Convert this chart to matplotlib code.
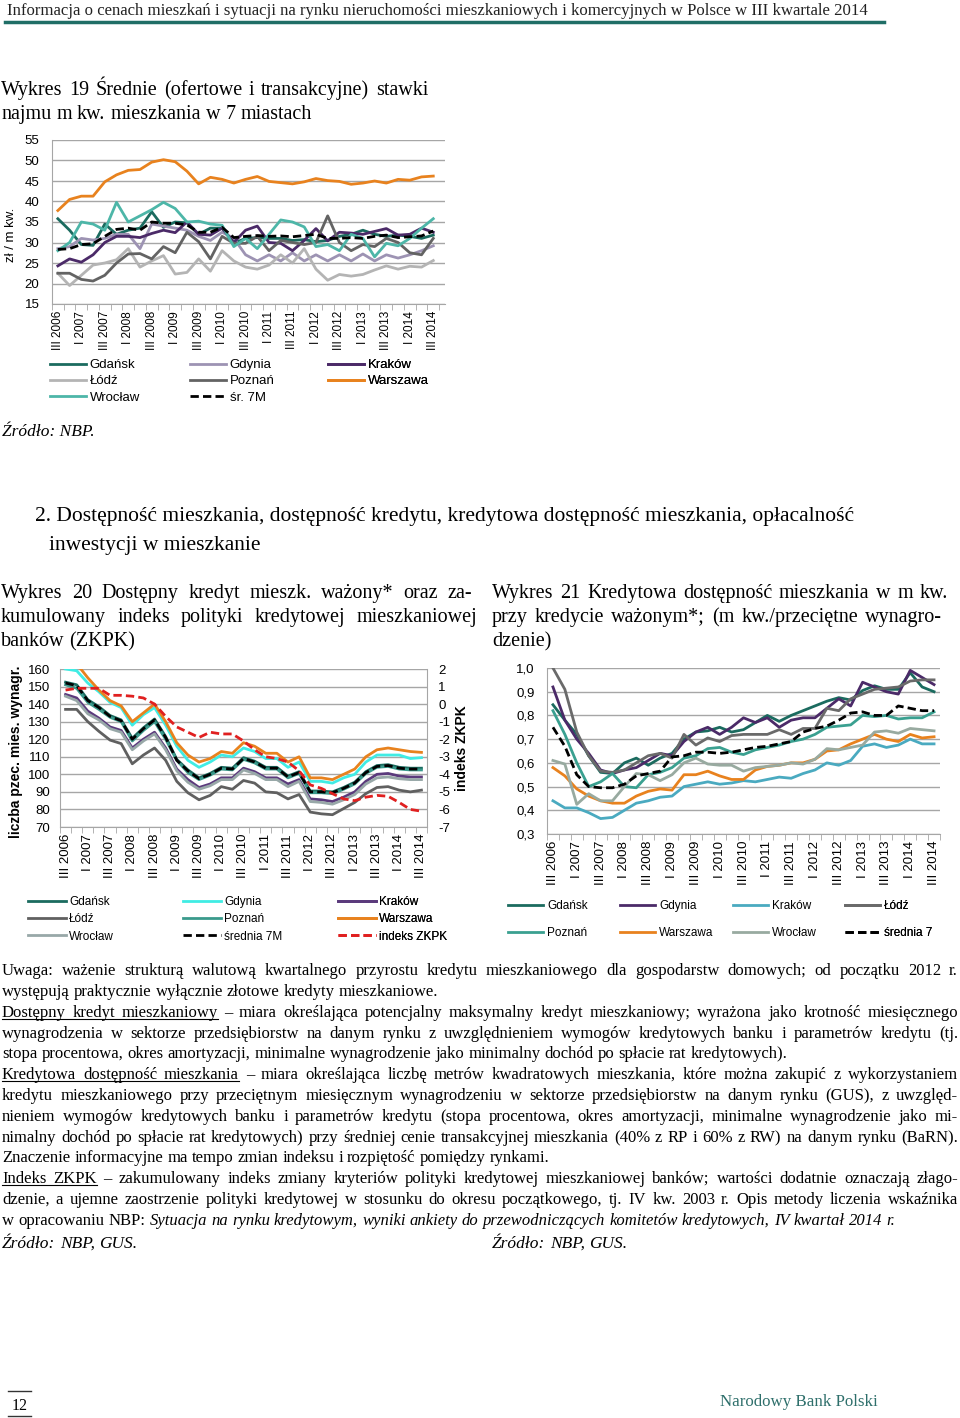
import matplotlib
matplotlib.use('Agg')
import numpy as np
import matplotlib.pyplot as plt
from matplotlib.font_manager import FontProperties, findfont
from matplotlib.lines import Line2D

W, H = 960, 1418

# ---- data ----------------------------------------------------------
quarters = np.arange(33)          # III 2006 ... III 2014
tick_pos = list(range(0, 33, 2))
tick_labels = ['III 2006', 'I 2007', 'III 2007', 'I 2008', 'III 2008', 'I 2009',
               'III 2009', 'I 2010', 'III 2010', 'I 2011', 'III 2011', 'I 2012',
               'III 2012', 'I 2013', 'III 2013', 'I 2014', 'III 2014']

# Wykres 19 - stawki najmu zl / m kw.
r_gdansk = [35.8, 33, 29.5, 29.3, 34.5, 32, 33, 33.5, 37.5, 33.7, 35, 34.8, 32, 33.5, 33.5, 29.8, 31,
            31.2, 31, 31, 30.5, 30.7, 30.2, 30.5, 31.5, 32, 33, 32, 31.5, 31.8, 31.5, 31, 31.8]
r_gdynia = [28.5, 29, 31, 30.6, 31, 32, 32, 28.5, 34.5, 34, 33.5, 33, 31.5, 30.5, 32.5, 31, 27,
            25.5, 27, 25.5, 27.5, 25.5, 27, 25.5, 27, 25.5, 27.2, 25.5, 27, 26.2, 27, 28, 29.2]
r_krakow = [24.3, 26, 25.2, 27, 30, 31.5, 31.5, 31.2, 32.2, 33, 32.4, 35, 32, 31.8, 33.5, 30, 33,
            34, 30, 29.8, 28, 30.5, 33.4, 30.4, 32.5, 32.3, 32, 32.7, 33.4, 31.8, 32, 33.5, 32.5]
r_lodz = [22.5, 19.5, 22, 24.5, 25, 25.8, 28.5, 24, 25.5, 26.8, 22.3, 22.7, 26, 23, 28, 25.5, 24,
          23.5, 24.5, 27, 25, 28.5, 23.5, 20.8, 22.2, 21.8, 22.2, 23.3, 24.3, 23.5, 24.2, 24, 25.6]
r_poznan = [22.5, 22.5, 21, 20.6, 22, 25, 27.2, 27.3, 26, 29, 27.5, 32.5, 30.2, 26, 31.5, 29.8, 29.8,
            31.5, 28, 30.5, 30, 29.5, 30, 36.5, 30, 28, 29.5, 29, 31, 30, 27.5, 27, 31]
r_warszawa = [37.8, 40.5, 41.3, 41.3, 44.8, 46.5, 47.6, 47.8, 49.6, 50.2, 49.7, 47.4, 44.3, 45.9, 45.4,
              44.5, 45.4, 46.1, 44.9, 44.6, 44.3, 44.8, 45.6, 45.1, 44.9, 44.2, 44.5, 45.0, 44.5,
              45.4, 45.2, 46.0, 46.2]
r_wroclaw = [28, 30, 35, 34.5, 33, 39.8, 35, 36.5, 38, 39.8, 38.3, 35, 35.2, 34.5, 34.2, 29, 31,
             28.5, 32, 35.5, 35, 33.8, 29, 29.5, 28, 32, 31, 26.5, 29.8, 29.2, 31, 33.5, 35.8]
r_avg = [28.3, 28.5, 29.5, 29.7, 31.5, 33.2, 33.5, 33, 35, 34.7, 34.7, 34.3, 32.5, 32.5, 33.7, 31.2,
         31.5, 31.7, 31.5, 31.6, 31.4, 31.7, 32.0, 31.0, 31.0, 31.2, 31.0, 31.5, 31.8, 31.2, 31.4,
         31.6, 32.8]

# Wykres 20 - dostepny kredyt (liczba przec. mies. wynagr.) i indeks ZKPK
k_warszawa = [165, 163, 155, 148, 142, 139, 130, 135, 140, 130, 118, 111, 107, 109, 113, 112, 118,
              116, 112, 112, 107, 110, 98, 98, 97, 100, 103, 110, 114, 115, 114, 113, 112.5]
k_gdynia = [160, 159, 152, 147, 141, 138, 128, 134, 138, 128, 116, 108, 104, 107, 111, 110, 115,
            113, 109, 109, 104, 107, 96, 96, 95, 98, 100, 107, 111, 111, 111, 109, 109.5]
k_gdansk = [152.5, 151, 142.5, 138.5, 133.5, 131, 120.5, 126.5, 131.5, 121.5, 108.5, 102.5, 98, 100.5,
            104, 103.5, 109.5, 107.5, 104, 104, 99, 101.5, 90.5, 90.5, 90, 92.5, 95.5, 101.5, 105,
            105.5, 104, 103.5, 103.5]
k_poznan = [151, 149, 141, 137, 132.5, 130, 119, 125, 130, 120, 108, 101, 97, 99.5, 103, 102.5, 108.5,
            106.5, 103, 103, 98, 100.5, 89.5, 89.5, 89, 91.5, 94.5, 100.5, 104, 104.5, 103, 102.5,
            102.5]
k_avg = [152, 150.5, 142, 138, 133, 130.5, 120, 126, 131, 121, 108, 102, 97.5, 100, 103.5, 103, 109,
         107, 103.5, 103.5, 98.5, 101, 90, 90, 89.5, 92, 95, 101, 104.5, 105, 103.5, 103, 103]
k_krakow = [145.5, 143.5, 136, 132, 127, 125, 115, 120, 124, 115, 103, 97, 92.5, 94.5, 98, 98, 103.5,
            101.5, 98, 98, 94.5, 97, 86, 85.5, 84.5, 87, 90, 96, 100, 100.5, 99, 98.5, 98.5]
k_wroclaw = [144.5, 142, 134.5, 131, 126, 124, 114, 119, 123, 114, 102, 95.5, 91.5, 93.5, 97, 97,
             102.5, 100.5, 97, 97, 93, 96, 84.5, 84, 83, 85.5, 88.5, 94.5, 98, 98.5, 97.5, 97, 97]
k_lodz = [137, 137, 130, 124.5, 119.5, 117.5, 106, 111, 115, 108, 96, 89.5, 85.5, 88, 93, 91.5, 96.5,
          95, 90, 89.5, 86, 88.5, 78.5, 77.5, 77, 80.5, 84, 89, 92.5, 93, 91, 90, 91]
zkpk = [0.8, 0.9, 0.9, 0.9, 0.5, 0.5, 0.45, 0.35, 0, -0.7, -1.3, -1.6, -1.9, -1.6, -1.7, -1.7, -2.1,
        -2.6, -3.0, -3.1, -3.3, -3.8, -4.6, -4.8, -5.1, -5.4, -5.5, -5.3, -5.2, -5.25, -5.6, -6.0,
        -6.1]

# Wykres 21 - kredytowa dostepnosc mieszkania (m kw./przec. wynagrodzenie)
d_gdansk = [0.845, 0.78, 0.72, 0.63, 0.56, 0.555, 0.60, 0.62, 0.59, 0.62, 0.64, 0.70, 0.73, 0.735,
            0.75, 0.73, 0.74, 0.77, 0.80, 0.775, 0.80, 0.82, 0.84, 0.86, 0.875, 0.865, 0.905, 0.925,
            0.91, 0.91, 0.98, 0.92, 0.90]
d_gdynia = [0.92, 0.78, 0.70, 0.64, 0.57, 0.555, 0.57, 0.58, 0.61, 0.64, 0.63, 0.69, 0.73, 0.75, 0.72,
            0.75, 0.79, 0.77, 0.79, 0.75, 0.78, 0.79, 0.79, 0.83, 0.87, 0.84, 0.94, 0.92, 0.90, 0.89,
            0.99, 0.96, 0.93]
d_krakow = [0.44, 0.41, 0.41, 0.39, 0.365, 0.37, 0.40, 0.43, 0.44, 0.455, 0.46, 0.50, 0.51, 0.52,
            0.51, 0.515, 0.525, 0.52, 0.53, 0.54, 0.535, 0.555, 0.57, 0.60, 0.59, 0.61, 0.67, 0.68,
            0.665, 0.675, 0.70, 0.68, 0.68]
d_lodz = [1.0, 0.91, 0.73, 0.63, 0.565, 0.56, 0.57, 0.60, 0.63, 0.64, 0.62, 0.72, 0.675, 0.705, 0.69,
          0.715, 0.72, 0.72, 0.72, 0.74, 0.72, 0.745, 0.745, 0.83, 0.82, 0.87, 0.89, 0.91, 0.915,
          0.92, 0.945, 0.95, 0.95]
d_poznan = [0.82, 0.72, 0.60, 0.50, 0.52, 0.555, 0.50, 0.495, 0.55, 0.56, 0.58, 0.62, 0.63, 0.66,
            0.665, 0.645, 0.635, 0.655, 0.665, 0.675, 0.69, 0.70, 0.72, 0.75, 0.755, 0.76, 0.80,
            0.795, 0.80, 0.785, 0.79, 0.79, 0.815]
d_warszawa = [0.58, 0.545, 0.49, 0.46, 0.44, 0.43, 0.43, 0.46, 0.48, 0.49, 0.485, 0.55, 0.55, 0.565,
              0.545, 0.53, 0.53, 0.57, 0.585, 0.59, 0.60, 0.60, 0.615, 0.65, 0.655, 0.68, 0.70, 0.72,
              0.70, 0.69, 0.72, 0.705, 0.71]
d_wroclaw = [0.61, 0.595, 0.425, 0.47, 0.44, 0.44, 0.50, 0.555, 0.55, 0.525, 0.55, 0.60, 0.62, 0.595,
             0.59, 0.59, 0.565, 0.58, 0.585, 0.59, 0.60, 0.595, 0.615, 0.66, 0.655, 0.665, 0.675,
             0.73, 0.735, 0.725, 0.745, 0.74, 0.735]
d_avg = [0.75, 0.67, 0.55, 0.50, 0.495, 0.495, 0.51, 0.545, 0.555, 0.565, 0.625, 0.63, 0.645, 0.645,
         0.64, 0.645, 0.655, 0.665, 0.67, 0.68, 0.69, 0.73, 0.745, 0.755, 0.78, 0.81, 0.815, 0.80,
         0.80, 0.84, 0.83, 0.82, 0.82]


# ---- helpers -------------------------------------------------------
def pick_font(names):
    for n in names:
        try:
            findfont(FontProperties(family=n), fallback_to_default=False)
            return n
        except Exception:
            pass
    return 'DejaVu Sans'

SANS = pick_font(['Liberation Sans', 'Arial'])
NARROW = pick_font(['Liberation Sans Narrow', 'Liberation Sans'])
SERIF = pick_font(['Liberation Serif', 'DejaVu Serif'])

fig = plt.figure(figsize=(W / 100, H / 100), dpi=100)
renderer = fig.canvas.get_renderer()

def fx(x):
    return x / W

def fy(y):
    return 1 - y / H

def axes_px(l, t, r, b):
    return fig.add_axes([l / W, 1 - b / H, (r - l) / W, (b - t) / H])

GRID = '#a6a6a6'

def style_axes(ax, xlim, fs_y, fs_x, ypad):
    ax.set_xlim(*xlim)
    ax.grid(axis='y', color=GRID, lw=1)
    ax.set_axisbelow(True)
    for s in ['top', 'right']:
        ax.spines[s].set_visible(False)
    for s in ['left', 'bottom']:
        ax.spines[s].set_color(GRID)
    ax.tick_params(axis='y', length=0, labelsize=fs_y, pad=ypad)
    ax.set_xticks(tick_pos)
    ax.set_xticklabels(tick_labels, rotation=90, fontsize=fs_x, fontfamily=SANS)
    ax.tick_params(axis='x', length=0, pad=5)
    ax.set_xticks(np.arange(-0.5, 33, 1), minor=True)
    ax.tick_params(axis='x', which='minor', length=4, color=GRID)
    for lab in ax.get_yticklabels():
        lab.set_fontfamily(SANS)

def vlabel(x, y, s, size=9.5, bold=False):
    fig.text(fx(x), fy(y), s, rotation=90, ha='center', va='center', fontsize=size,
             fontfamily=SANS, fontweight='bold' if bold else 'normal')

def legend_cols(ax, handles, cols, x_list, y_top, fs, family, rowgap, hlen):
    fp = FontProperties(family=family, size=fs)
    for col, x in zip(cols, x_list):
        hs = [handles[n] for n in col]
        leg = ax.legend(hs, col, loc='upper left', bbox_to_anchor=(fx(x), fy(y_top)),
                        bbox_transform=fig.transFigure, frameon=False, prop=fp,
                        borderpad=0, borderaxespad=0, handlelength=hlen,
                        handletextpad=0.3, labelspacing=rowgap)
        ax.add_artist(leg)

def fp_serif(size, italic=False):
    return FontProperties(family=SERIF, size=size, style='italic' if italic else 'normal')

def word_w(s, fp):
    return renderer.get_text_width_height_descent(s, fp, ismath=False)[0]

def text_line(y, segs, x0, x1=None, size=12, color='black'):
    # segs: list of (text, style) with style '' / 'u' (underline) / 'i' (italic)
    words = []
    for txt, st in segs:
        for w in txt.split():
            words.append((w, st))
    fps = [fp_serif(size, 'i' in st) for _, st in words]
    widths = [word_w(w, fp) for (w, _), fp in zip(words, fps)]
    space = word_w('a a', fp_serif(size)) - word_w('aa', fp_serif(size))
    if x1 is not None and len(words) > 1:
        gap = (x1 - x0 - sum(widths)) / (len(words) - 1)
    else:
        gap = space
    x = x0
    ul = []
    for (w, st), fp, wd in zip(words, fps, widths):
        fig.text(fx(x), fy(y), w, fontproperties=fp, va='baseline', ha='left', color=color)
        if 'u' in st:
            ul.append((x, x + wd))
        x += wd + gap
    if ul:
        fig.add_artist(Line2D([fx(ul[0][0]), fx(ul[-1][1])], [fy(y + 2), fy(y + 2)],
                              color=color, lw=0.8))


# ---- page header ---------------------------------------------------
fig.text(fx(7), fy(15), 'Informacja o cenach mieszkań i sytuacji na rynku nieruchomości '
         'mieszkaniowych i komercyjnych w Polsce w III kwartale 2014',
         fontproperties=fp_serif(12.1), va='baseline', color='#222222')
fig.add_artist(Line2D([fx(5), fx(884)], [fy(22), fy(22)], color='#1f6e66', lw=2.5))

# ---- Wykres 19 -----------------------------------------------------
TS = 14.5
text_line(95, [('Wykres 19 Średnie (ofertowe i transakcyjne) stawki', '')], 1, 428, size=TS)
text_line(119, [('najmu m kw. mieszkania w 7 miastach', '')], 1, None, size=TS)

ax1 = axes_px(52, 140, 445, 304)
ax1.plot(quarters, r_gdansk, color='#1b6b5f', lw=2, label='Gdańsk')
ax1.plot(quarters, r_gdynia, color='#9d93b3', lw=2, label='Gdynia')
ax1.plot(quarters, r_krakow, color='#4b2a68', lw=2, label='Kraków')
ax1.plot(quarters, r_lodz, color='#b4b4b4', lw=2, label='Łódź')
ax1.plot(quarters, r_poznan, color='#636363', lw=2, label='Poznań')
ax1.plot(quarters, r_warszawa, color='#e8821e', lw=2, label='Warszawa')
ax1.plot(quarters, r_wroclaw, color='#4db6a8', lw=2, label='Wrocław')
ax1.plot(quarters, r_avg, color='black', lw=2, ls=(0, (3, 1.5)), label='śr. 7M')
ax1.set_ylim(15, 55)
ax1.set_yticks(range(15, 56, 5))
style_axes(ax1, (-0.45, 33.0), 9.5, 8.5, 9)
vlabel(11, 235, 'zł / m kw.')

h1 = {l.get_label(): l for l in ax1.get_lines()}
legend_cols(ax1, h1, [['Gdańsk', 'Łódź', 'Wrocław'], ['Gdynia', 'Poznań', 'śr. 7M'],
                      ['Kraków', 'Warszawa']],
            [50, 190, 328], 359, 9.5, SANS, 0.3, 2.7)

fig.text(fx(2), fy(436), 'Źródło: NBP.', fontproperties=fp_serif(12.5, True), va='baseline')

# ---- section heading ----------------------------------------------
fig.text(fx(35), fy(521), '2. Dostępność mieszkania, dostępność kredytu, kredytowa dostępność '
         'mieszkania, opłacalność', fontproperties=fp_serif(15.5), va='baseline')
fig.text(fx(49), fy(550), 'inwestycji w mieszkanie', fontproperties=fp_serif(15.5), va='baseline')

# ---- Wykres 20 -----------------------------------------------------
text_line(598, [('Wykres 20 Dostępny kredyt mieszk. ważony* oraz za-', '')], 1, 472, size=TS)
text_line(622, [('kumulowany indeks polityki kredytowej mieszkaniowej', '')], 1, 477, size=TS)
text_line(646, [('banków (ZKPK)', '')], 1, None, size=TS)

ax2 = axes_px(60, 669, 427, 827)
ax2.plot(quarters, k_gdansk, color='#1b6b5f', lw=2, label='Gdańsk')
ax2.plot(quarters, k_gdynia, color='#40ece4', lw=2, label='Gdynia')
ax2.plot(quarters, k_krakow, color='#5b3a7c', lw=2, label='Kraków')
ax2.plot(quarters, k_lodz, color='#606060', lw=2, label='Łódź')
ax2.plot(quarters, k_poznan, color='#3a9a8c', lw=2, label='Poznań')
ax2.plot(quarters, k_warszawa, color='#e8821e', lw=2, label='Warszawa')
ax2.plot(quarters, k_wroclaw, color='#98a8a8', lw=2, label='Wrocław')
ax2.plot(quarters, k_avg, color='black', lw=2, ls=(0, (3, 1.5)), label='średnia 7M')
ax2.set_ylim(70, 160)
ax2.set_yticks(range(70, 161, 10))
style_axes(ax2, (-0.5, 32.5), 9.5, 9.5, 7)
vlabel(16, 752, 'liczba pzec. mies. wynagr.', size=10, bold=True)

ax2r = ax2.twinx()
ax2r.plot(quarters, zkpk, color='#e02020', lw=2, ls=(0, (3, 1.5)), label='indeks ZKPK')
ax2r.set_ylim(-7, 2)
ax2r.set_yticks(range(-7, 3))
ax2r.set_yticklabels([str(v) for v in range(-7, 3)], fontsize=9.5, fontfamily=SANS)
ax2r.tick_params(axis='y', length=0, pad=8)
for s in ['top', 'left', 'bottom']:
    ax2r.spines[s].set_visible(False)
ax2r.spines['right'].set_color(GRID)
vlabel(462, 748, 'indeks ZKPK', size=10, bold=True)

h2 = {l.get_label(): l for l in ax2.get_lines() + ax2r.get_lines()}
legend_cols(ax2r, h2, [['Gdańsk', 'Łódź', 'Wrocław'], ['Gdynia', 'Poznań', 'średnia 7M'],
                       ['Kraków', 'Warszawa', 'indeks ZKPK']],
            [28, 183, 338], 896, 8.5, NARROW, 0.45, 3.2)

# ---- Wykres 21 -----------------------------------------------------
text_line(598, [('Wykres 21 Kredytowa dostępność mieszkania w m kw.', '')], 492, 948, size=TS)
text_line(622, [('przy kredycie ważonym*; (m kw./przeciętne wynagro-', '')], 492, 942, size=TS)
text_line(646, [('dzenie)', '')], 492, None, size=TS)

ax3 = axes_px(547, 668, 940, 834)
ax3.plot(quarters, d_gdansk, color='#1b6b5f', lw=2, label='Gdańsk')
ax3.plot(quarters, d_gdynia, color='#4b2a68', lw=2, label='Gdynia')
ax3.plot(quarters, d_krakow, color='#4aaac0', lw=2, label='Kraków')
ax3.plot(quarters, d_lodz, color='#6a6a6a', lw=2, label='Łódź')
ax3.plot(quarters, d_poznan, color='#3aa090', lw=2, label='Poznań')
ax3.plot(quarters, d_warszawa, color='#e8821e', lw=2, label='Warszawa')
ax3.plot(quarters, d_wroclaw, color='#98aaa0', lw=2, label='Wrocław')
ax3.plot(quarters, d_avg, color='black', lw=2, ls=(0, (3, 1.5)), label='średnia 7')
ax3.set_ylim(0.3, 1.0)
yt3 = [0.3, 0.4, 0.5, 0.6, 0.7, 0.8, 0.9, 1.0]
ax3.set_yticks(yt3)
ax3.set_yticklabels([f'{v:.1f}'.replace('.', ',') for v in yt3])
style_axes(ax3, (-0.5, 32.3), 9.5, 9.5, 9)

h3 = {l.get_label(): l for l in ax3.get_lines()}
legend_cols(ax3, h3, [['Gdańsk', 'Poznań'], ['Gdynia', 'Warszawa'], ['Kraków', 'Wrocław'],
                      ['Łódź', 'średnia 7']],
            [508, 620, 733, 845], 900, 8.5, NARROW, 1.25, 3.0)

# ---- notes ---------------------------------------------------------
L, R = 2, 958
notes = [
    (975, [('Uwaga: ważenie strukturą walutową kwartalnego przyrostu kredytu mieszkaniowego dla '
            'gospodarstw domowych; od początku 2012 r.', '')], True),
    (996, [('występują praktycznie wyłącznie złotowe kredyty mieszkaniowe.', '')], False),
    (1017, [('Dostępny kredyt mieszkaniowy', 'u'),
            ('– miara określająca potencjalny maksymalny kredyt mieszkaniowy; wyrażona jako '
             'krotność miesięcznego', '')], True),
    (1038, [('wynagrodzenia w sektorze przedsiębiorstw na danym rynku z uwzględnieniem wymogów '
             'kredytowych banku i parametrów kredytu (tj.', '')], True),
    (1058, [('stopa procentowa, okres amortyzacji, minimalne wynagrodzenie jako minimalny dochód '
             'po spłacie rat kredytowych).', '')], False),
    (1079, [('Kredytowa dostępność mieszkania', 'u'),
            ('– miara określająca liczbę metrów kwadratowych mieszkania, które można zakupić z '
             'wykorzystaniem', '')], True),
    (1100, [('kredytu mieszkaniowego przy przeciętnym miesięcznym wynagrodzeniu w sektorze '
             'przedsiębiorstw na danym rynku (GUS), z uwzględ-', '')], True),
    (1121, [('nieniem wymogów kredytowych banku i parametrów kredytu (stopa procentowa, okres '
             'amortyzacji, minimalne wynagrodzenie jako mi-', '')], True),
    (1142, [('nimalny dochód po spłacie rat kredytowych) przy średniej cenie transakcyjnej '
             'mieszkania (40% z RP i 60% z RW) na danym rynku (BaRN).', '')], True),
    (1162, [('Znaczenie informacyjne ma tempo zmian indeksu i rozpiętość pomiędzy rynkami.', '')],
     False),
    (1183, [('Indeks ZKPK', 'u'),
            ('– zakumulowany indeks zmiany kryteriów polityki kredytowej mieszkaniowej banków; '
             'wartości dodatnie oznaczają złago-', '')], True),
    (1204, [('dzenie, a ujemne zaostrzenie polityki kredytowej w stosunku do okresu '
             'początkowego, tj. IV kw. 2003 r. Opis metody liczenia wskaźnika', '')], True),
    (1225, [('w opracowaniu NBP:', ''),
            ('Sytuacja na rynku kredytowym, wyniki ankiety do przewodniczących komitetów '
             'kredytowych, IV kwartał 2014 r.', 'i')], False),
]
for y, segs, just in notes:
    text_line(y, segs, L, R if just else None, size=12)

text_line(1248, [('Źródło: NBP, GUS.', 'i')], 2, None, size=12.5)
text_line(1248, [('Źródło: NBP, GUS.', 'i')], 492, None, size=12.5)

# ---- footer --------------------------------------------------------
fig.add_artist(Line2D([fx(8), fx(31)], [fy(1391), fy(1391)], color='#333333', lw=1))
fig.add_artist(Line2D([fx(8), fx(31)], [fy(1416), fy(1416)], color='#333333', lw=1))
fig.text(fx(19.5), fy(1410), '12', fontproperties=fp_serif(11.5), ha='center', va='baseline')
fig.text(fx(720), fy(1406), 'Narodowy Bank Polski', fontproperties=fp_serif(12.2),
         va='baseline', color='#2e6f6b')

fig.savefig('out.png', dpi=100)
